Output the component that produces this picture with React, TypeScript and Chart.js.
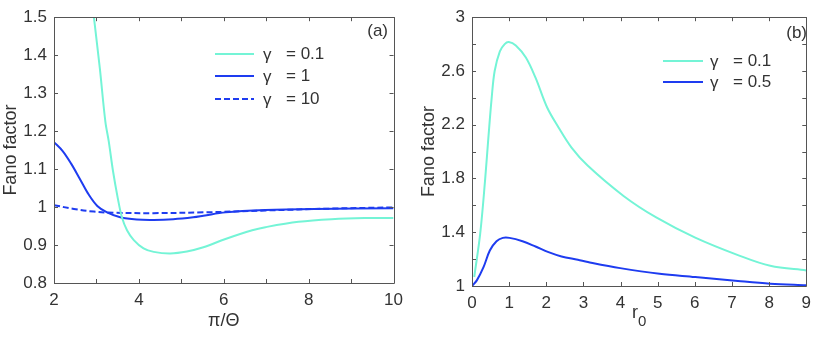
import React, { useEffect, useRef } from 'react';
import { Chart, registerables } from 'chart.js';
Chart.register(...registerables);

// ---------- Panel (a) data ----------
const aG01X = [2.88, 2.94, 3.08, 3.21, 3.29, 3.39, 3.5, 3.6, 3.72, 3.88, 4.11, 4.35, 4.74, 5.13, 5.52, 6.04, 6.67, 6.98, 7.76, 8.54, 9.32, 10];
const aG01Y = [1.56, 1.5, 1.365, 1.225, 1.173, 1.095, 1.025, 0.973, 0.939, 0.913, 0.891, 0.882, 0.878, 0.883, 0.894, 0.916, 0.939, 0.947, 0.961, 0.968, 0.971, 0.971];
const aG1X = [2, 2.2, 2.4, 2.6, 2.8, 3.02, 3.25, 3.56, 3.95, 4.35, 4.81, 5.28, 5.52, 6.04, 6.98, 8.15, 10];
const aG1Y = [1.171, 1.148, 1.115, 1.076, 1.036, 1.003, 0.986, 0.973, 0.967, 0.966, 0.968, 0.973, 0.977, 0.986, 0.992, 0.995, 0.997];
const aG10X = [2, 2.47, 2.94, 3.41, 4.35, 5.52, 6.98, 8.54, 10];
const aG10Y = [1.005, 0.995, 0.988, 0.985, 0.984, 0.986, 0.991, 0.996, 0.999];
const aXLabels = [2, 4, 6, 8, 10];
const aXTicks = [2, 3, 4, 5, 6, 7, 8, 9, 10];
const aYLabels = [0.8, 0.9, 1, 1.1, 1.2, 1.3, 1.4, 1.5];
const aYTicks = [0.8, 0.9, 1, 1.1, 1.2, 1.3, 1.4, 1.5];
const aLegend = ['= 0.1', '= 1', '= 10'];

// ---------- Panel (b) data ----------
const bG01X = [0.06, 0.22, 0.35, 0.44, 0.53, 0.61, 0.75, 0.88, 0.99, 1.18, 1.45, 1.71, 2.02, 2.33, 2.68, 3.12, 4.08, 4.96, 6.01, 7.16, 8.03, 9];
const bG01Y = [1.067, 1.388, 1.78, 2.1, 2.4, 2.6, 2.746, 2.8, 2.815, 2.79, 2.7, 2.55, 2.33, 2.18, 2.03, 1.894, 1.67, 1.51, 1.36, 1.23, 1.15, 1.116];
const bG05X = [0, 0.13, 0.31, 0.48, 0.66, 0.83, 1.01, 1.36, 1.71, 2.06, 2.41, 2.85, 3.12, 3.99, 5.05, 6.01, 7.16, 8.03, 9];
const bG05Y = [1.0, 1.042, 1.14, 1.264, 1.333, 1.358, 1.358, 1.333, 1.294, 1.252, 1.22, 1.195, 1.178, 1.133, 1.091, 1.067, 1.037, 1.017, 1.005];
const bXLabels = [0, 1, 2, 3, 4, 5, 6, 7, 8, 9];
const bXTicks = [0, 1, 2, 3, 4, 5, 6, 7, 8, 9];
const bYLabels = [1, 1.4, 1.8, 2.2, 2.6, 3];
const bYTicks = [1, 1.2, 1.4, 1.6, 1.8, 2.0, 2.2, 2.4, 2.6, 2.8, 3];
const bLegend = ['= 0.1', '= 0.5'];

const CYAN = '#74F4D6';
const BLUE = '#1E3CF0';
const TEXT = '#333333';
const AXIS = '#555555';
const FONT = '"Liberation Sans", Arial, Helvetica, sans-serif';

const zip = (xs: number[], ys: number[]) => xs.map((x, i) => ({ x, y: ys[i] }));

const framePlugin = {
  id: 'frameTicks',
  afterDatasetsDraw(chart: any, _args: any, opts: any) {
    const { ctx, chartArea: ca, scales } = chart;
    const xs = scales.x, ys = scales.y;
    ctx.save();
    ctx.strokeStyle = AXIS;
    ctx.lineWidth = 1;
    ctx.beginPath();
    ctx.rect(Math.round(ca.left) + 0.5, Math.round(ca.top) + 0.5, Math.round(ca.right - ca.left), Math.round(ca.bottom - ca.top));
    ctx.stroke();
    const L = 4;
    ctx.beginPath();
    for (const v of opts.xTicks) {
      const p = Math.round(xs.getPixelForValue(v)) + 0.5;
      ctx.moveTo(p, ca.bottom); ctx.lineTo(p, ca.bottom - L);
      ctx.moveTo(p, ca.top); ctx.lineTo(p, ca.top + L);
    }
    for (const v of opts.yTicks) {
      const p = Math.round(ys.getPixelForValue(v)) + 0.5;
      ctx.moveTo(ca.left, p); ctx.lineTo(ca.left + L, p);
      ctx.moveTo(ca.right, p); ctx.lineTo(ca.right - L, p);
    }
    ctx.stroke();

    // legend
    ctx.font = `17px ${FONT}`;
    ctx.textBaseline = 'middle';
    ctx.fillStyle = TEXT;
    opts.legend.forEach((txt: string, i: number) => {
      const ds = chart.data.datasets[i];
      const y = opts.legY[i];
      ctx.strokeStyle = ds.borderColor;
      ctx.lineWidth = 2;
      ctx.setLineDash(ds.borderDash || []);
      ctx.beginPath();
      ctx.moveTo(opts.legX0, y); ctx.lineTo(opts.legX1, y);
      ctx.stroke();
      ctx.setLineDash([]);
      ctx.textAlign = 'left';
      ctx.fillText('γ', opts.gX, y + 1);
      ctx.fillText(txt, opts.eqX, y);
    });
    // panel label
    ctx.textAlign = 'right';
    ctx.fillText(opts.panel, opts.panelX, opts.panelY);

    // custom subscripted x title
    if (opts.subTitle) {
      const cx = (ca.left + ca.right) / 2;
      ctx.textBaseline = 'alphabetic';
      ctx.textAlign = 'left';
      ctx.font = `18px ${FONT}`;
      const w1 = ctx.measureText(opts.subTitle[0]).width;
      ctx.font = `15px ${FONT}`;
      const w2 = ctx.measureText(opts.subTitle[1]).width;
      const x0 = cx - (w1 + w2) / 2;
      ctx.font = `18px ${FONT}`;
      ctx.fillText(opts.subTitle[0], x0, opts.subY);
      ctx.font = `15px ${FONT}`;
      ctx.fillText(opts.subTitle[1], x0 + w1, opts.subY + 8);
    }
    ctx.restore();
  },
};

function makeConfig(p: any) {
  return {
    type: 'line',
    data: { datasets: p.datasets },
    options: {
      animation: false,
      responsive: false,
      events: [],
      layout: { padding: { top: p.top, right: p.right, left: 0, bottom: 0 } },
      elements: { point: { radius: 0 }, line: { borderWidth: 2, tension: 0.35 } },
      plugins: {
        legend: { display: false },
        tooltip: { enabled: false },
        frameTicks: p.frame,
      },
      scales: {
        x: {
          type: 'linear', min: p.xMin, max: p.xMax,
          afterBuildTicks: (s: any) => { s.ticks = p.xLabels.map((v: number) => ({ value: v })); },
          afterFit: (s: any) => { s.height = p.xHeight; },
          grid: { display: false, drawTicks: false },
          border: { display: false },
          ticks: { padding: 7, color: TEXT, font: { family: FONT, size: 17 }, maxRotation: 0, autoSkip: false, callback: (v: number) => String(v) },
          title: { display: !!p.xTitle, text: p.xTitle || '', color: TEXT, font: { family: FONT, size: 18 }, padding: { top: 0, bottom: p.xTitlePad } },
        },
        y: {
          type: 'linear', min: p.yMin, max: p.yMax,
          afterBuildTicks: (s: any) => { s.ticks = p.yLabels.map((v: number) => ({ value: v })); },
          afterFit: (s: any) => { s.width = p.yWidth; },
          grid: { display: false, drawTicks: false },
          border: { display: false },
          ticks: { padding: 7, color: TEXT, font: { family: FONT, size: 17 }, autoSkip: false, callback: (v: number) => String(Math.round(v * 10) / 10) },
          title: { display: true, text: 'Fano factor', color: TEXT, font: { family: FONT, size: 18 }, padding: { top: p.yTitlePad, bottom: 0 } },
        },
      },
    },
    plugins: [framePlugin],
  };
}

function Panel({ left, width, cfg }: { left: number; width: number; cfg: any }) {
  const ref = useRef<HTMLCanvasElement>(null);
  useEffect(() => {
    const chart = new Chart(ref.current as HTMLCanvasElement, makeConfig(cfg) as any);
    return () => chart.destroy();
  }, []);
  return <canvas ref={ref} width={width} height={345} style={{ position: 'absolute', left, top: 0, width, height: 345 }} />;
}

const cfgA = {
  datasets: [
    { data: zip(aG01X, aG01Y), borderColor: CYAN },
    { data: zip(aG1X, aG1Y), borderColor: BLUE },
    { data: zip(aG10X, aG10Y), borderColor: BLUE, borderDash: [6, 3] },
  ],
  xMin: 2, xMax: 10, yMin: 0.8, yMax: 1.5,
  xLabels: aXLabels, yLabels: aYLabels,
  top: 14, right: 15, xHeight: 62, yWidth: 54,
  xTitle: 'π/Θ', xTitlePad: 13, yTitlePad: 0,
  frame: {
    xTicks: aXTicks, yTicks: aYTicks, legend: aLegend,
    legY: [54, 76, 99], legX0: 215, legX1: 254, gX: 263, eqX: 286,
    panel: '(a)', panelX: 388, panelY: 31,
  },
};

const cfgB = {
  datasets: [
    { data: zip(bG01X, bG01Y), borderColor: CYAN },
    { data: zip(bG05X, bG05Y), borderColor: BLUE },
  ],
  xMin: 0, xMax: 9, yMin: 1, yMax: 3,
  xLabels: bXLabels, yLabels: bYLabels,
  top: 16, right: 5, xHeight: 59, yWidth: 62,
  xTitle: '', xTitlePad: 6, yTitlePad: 8,
  frame: {
    xTicks: bXTicks, yTicks: bYTicks, legend: bLegend,
    legY: [61, 82], legX0: 253, legX1: 293, gX: 300, eqX: 323,
    panel: '(b)', panelX: 397, panelY: 33,
    subTitle: ['r', '0'], subY: 318,
  },
};

export default function App() {
  return (
    <div style={{ position: 'fixed', left: 0, top: 0, width: 818, height: 345, background: '#fff' }}>
      <Panel left={0} width={410} cfg={cfgA} />
      <Panel left={410} width={408} cfg={cfgB} />
    </div>
  );
}
